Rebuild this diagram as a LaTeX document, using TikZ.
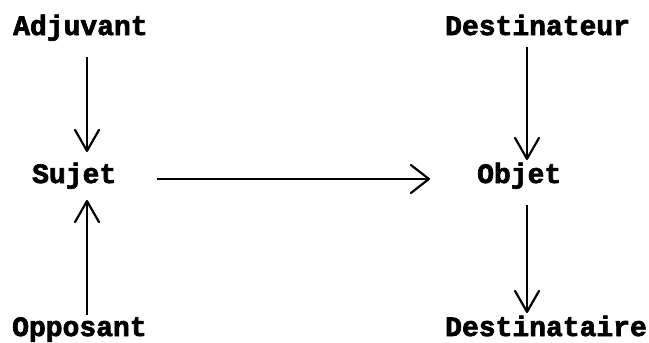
\documentclass[tikz,border=0pt]{standalone}
\usepackage{fontspec}
\setmonofont{Liberation Mono}[FakeBold=2.5]
\usetikzlibrary{arrows.meta,calc}
\tikzset{
  lbl/.style={anchor=base west,inner sep=0pt,font=\ttfamily\bfseries\fontsize{28}{28}\selectfont},
  arr/.style={line width=2.4pt,-{Straight Barb[length=21pt,width=24pt,line width=2.2pt,round]}},
  harr/.style={line width=2.2pt,-{Straight Barb[length=18pt,width=28pt,line width=2.2pt,round]}}
}
\begin{document}
\begin{tikzpicture}[x=1pt,y=1pt]
\useasboundingbox (0,0) rectangle (649,-343);
\node[lbl] (adj) at (13,-35) {Adjuvant};
\node[lbl] (suj) at (32,-183) {Sujet};
\node[lbl] (opp) at (12,-336) {Opposant};
\node[lbl] (des) at (445,-35) {Destinateur};
\node[lbl] (obj) at (477,-183) {Objet};
\node[lbl] (dst) at (445,-336) {Destinataire};
\draw[arr] ($(adj.base west)+(74,-22)$) -- ($(suj.base west)+(55,31)$);
\draw[arr] ($(opp.base west)+(75,21)$) -- ($(suj.base west)+(55,-17)$);
\draw[harr] ($(suj.base west)+(125,4)$) -- ($(obj.base west)+(-47,4)$);
\draw[arr] ($(des.base west)+(82,-12)$) -- ($(obj.base west)+(50,23)$);
\draw[arr] ($(obj.base west)+(50,-22)$) -- ($(dst.base west)+(82,23)$);
\end{tikzpicture}
\end{document}
